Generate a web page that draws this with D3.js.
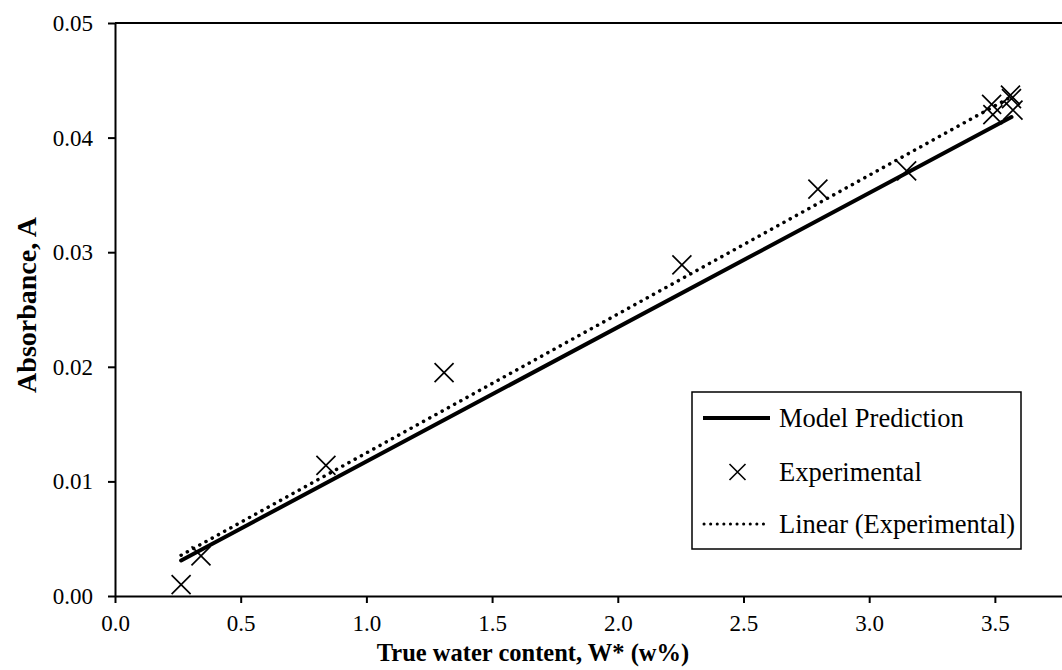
<!DOCTYPE html>
<html>
<head>
<meta charset="utf-8">
<script src="https://cdn.jsdelivr.net/npm/d3@7"></script>
<style>
  html, body { margin: 0; padding: 0; background: #fff; }
  svg { display: block; font-family: "Liberation Serif", "Times New Roman", serif; }
</style>
</head>
<body>
<svg id="chart" width="1062" height="670"></svg>
<script>
// Measured water content (w%) and absorbance for the experimental samples
const expWater = [0.263, 0.342, 0.839, 1.309, 2.255, 2.796, 3.149, 3.487, 3.492, 3.562, 3.566, 3.572];
const expAbs   = [0.0010, 0.0035, 0.0114, 0.0195, 0.0289, 0.0355, 0.0371, 0.0429, 0.0420, 0.0437, 0.0434, 0.0424];

// Model prediction line (end points)
const modelWater = [0.263, 3.566];
const modelAbs   = [0.0031, 0.0418];

const xTicks = [0.0, 0.5, 1.0, 1.5, 2.0, 2.5, 3.0, 3.5];
const yTicks = [0.00, 0.01, 0.02, 0.03, 0.04, 0.05];

const legendLabels = ["Model Prediction", "Experimental", "Linear (Experimental)"];

const svg = d3.select("#chart");
const W = 1062, H = 670;
const m = { left: 115, top: 23, right: 0, bottom: 74 };

const x = d3.scaleLinear().domain([0, 3.767]).range([m.left, W - m.right]);
const y = d3.scaleLinear().domain([0, 0.05]).range([H - m.bottom, m.top]);

// Least-squares fit of the experimental points
const n = expWater.length;
const mx = d3.mean(expWater), my = d3.mean(expAbs);
let sxy = 0, sxx = 0;
for (let i = 0; i < n; i++) {
  sxy += (expWater[i] - mx) * (expAbs[i] - my);
  sxx += (expWater[i] - mx) ** 2;
}
const slope = sxy / sxx, icpt = my - slope * mx;
const fitX = [d3.min(expWater), d3.max(expWater)];

// Axes
const xAxis = svg.append("g")
  .attr("transform", `translate(0,${y(0)})`)
  .call(d3.axisBottom(x).tickValues(xTicks).tickFormat(d3.format(".1f")).tickSizeInner(7).tickSizeOuter(0));
const yAxis = svg.append("g")
  .attr("transform", `translate(${x(0)},0)`)
  .call(d3.axisLeft(y).tickValues(yTicks).tickFormat(d3.format(".2f")).tickSizeInner(7).tickSizeOuter(0));

[xAxis, yAxis].forEach(g => {
  g.select(".domain").attr("stroke", "#000").attr("stroke-width", 2);
  g.selectAll(".tick line").attr("stroke", "#000").attr("stroke-width", 2);
  g.selectAll(".tick text").attr("fill", "#000").attr("font-size", 23)
    .attr("font-family", "Liberation Serif, serif");
});
xAxis.selectAll(".tick text").attr("y", 35).attr("dy", 0);
yAxis.selectAll(".tick text").attr("x", -22).attr("dy", "0.33em");

// Top frame line
svg.append("line")
  .attr("x1", x(0)).attr("x2", W).attr("y1", y(0.05)).attr("y2", y(0.05))
  .attr("stroke", "#000").attr("stroke-width", 2);

// Axis titles
svg.append("text")
  .attr("x", 533).attr("y", 661).attr("text-anchor", "middle")
  .attr("font-size", 24.5).attr("font-weight", "bold").text("True water content, W* (w%)");
svg.append("text")
  .attr("transform", `translate(36,305) rotate(-90)`)
  .attr("text-anchor", "middle")
  .attr("font-size", 28).attr("font-weight", "bold").text("Absorbance, A");

const line = d3.line().x(d => x(d[0])).y(d => y(d[1]));

// Model prediction
svg.append("path")
  .attr("d", line(d3.zip(modelWater, modelAbs)))
  .attr("fill", "none").attr("stroke", "#000").attr("stroke-width", 4).attr("stroke-linecap", "round");

// Linear trend of the experimental data
svg.append("path")
  .attr("d", line(fitX.map(v => [v, icpt + slope * v])))
  .attr("fill", "none").attr("stroke", "#000").attr("stroke-width", 3.5)
  .attr("stroke-dasharray", "0.1 7").attr("stroke-linecap", "round");

// Cross markers
function cross(g, cx, cy, r, w) {
  g.append("path")
    .attr("d", `M${cx - r},${cy - r}L${cx + r},${cy + r}M${cx - r},${cy + r}L${cx + r},${cy - r}`)
    .attr("stroke", "#000").attr("stroke-width", w).attr("fill", "none");
}
const pts = svg.append("g");
d3.zip(expWater, expAbs).forEach(d => cross(pts, x(d[0]), y(d[1]), 9.5, 1.7));

// Legend
const lg = svg.append("g");
lg.append("rect").attr("x", 692).attr("y", 392).attr("width", 329).attr("height", 157)
  .attr("fill", "#fff").attr("stroke", "#000").attr("stroke-width", 1.5);
const rows = [418, 472, 524];
lg.append("line").attr("x1", 703).attr("x2", 770).attr("y1", rows[0]).attr("y2", rows[0])
  .attr("stroke", "#000").attr("stroke-width", 4);
cross(lg, 737.5, rows[1], 8, 1.6);
lg.append("line").attr("x1", 704).attr("x2", 770).attr("y1", rows[2]).attr("y2", rows[2])
  .attr("stroke", "#000").attr("stroke-width", 3).attr("stroke-dasharray", "0.1 6.5").attr("stroke-linecap", "round");
legendLabels.forEach((t, i) => {
  lg.append("text").attr("x", 779).attr("y", rows[i] + 9)
    .attr("font-size", 26.5).attr("fill", "#000").text(t);
});
</script>
</body>
</html>
